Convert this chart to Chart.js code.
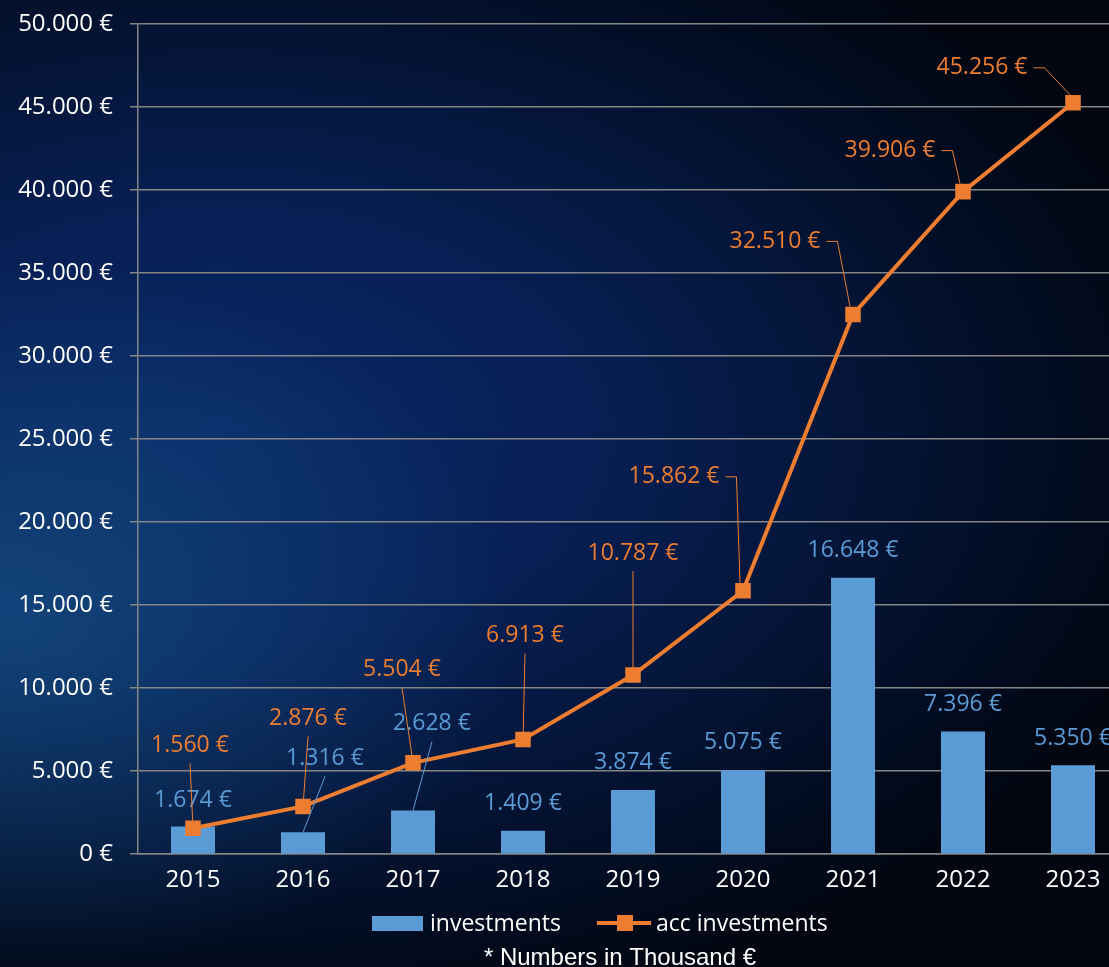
<!DOCTYPE html>
<html>
<head>
<meta charset="utf-8">
<script src="https://cdn.jsdelivr.net/npm/chart.js@4.4.1/dist/chart.umd.min.js"></script>
<style>
    html, body { margin: 0; padding: 0; width: 1109px; height: 967px; overflow: hidden; }
    body {
        background:
            radial-gradient(ellipse 520px 360px at 0% 64%, rgba(22,80,135,0.75) 0%, rgba(22,80,135,0) 100%),
            radial-gradient(ellipse 1000px 600px at 20% 45%, rgb(9,40,100) 0%, rgb(7,32,86) 35%, rgb(3,18,48) 70%, rgb(1,6,16) 100%);
    }
</style>
</head>
<body>
<canvas id="my" width="1200" height="967"></canvas>
<script>
// data (values in thousand €)
var years = ["2015", "2016", "2017", "2018", "2019", "2020", "2021", "2022", "2023"];
var investments = [1674, 1316, 2628, 1409, 3874, 5075, 16648, 7396, 5350];
var accInvestments = [1560, 2876, 5504, 6913, 10787, 15862, 32510, 39906, 45256];
var seriesNames = ["investments", "acc investments"];

// label placement: [dx, dy, leader]  (relative to bar top / point)
var barLabelPos = [[0,-26,""],[22,-74,"v"],[19,-87,"v"],[0,-27,""],[0,-27,""],[0,-27,""],[0,-27,""],[0,-27,""],[0,-27,""]];
var lineLabelPos = [[-3,-83,"v"],[5,-88,"v"],[-11,-93,"v"],[2,-104,"v"],[0,-122,"v"],[-69,-114,"h"],[-78,-73,"h"],[-73,-41,"h"],[-91,-35,"h"]];

var blue = "#5B9BD5";
var orange = "#ED7D31";
var grid = "#858585";
var font = "'Open Sans', sans-serif";

function euro(v) {
    var s = String(Math.round(v));
    return s.replace(/\B(?=(\d{3})+(?!\d))/g, ".") + " €";
}

var labelPlugin = {
    id: "valueLabels",
    afterDatasetsDraw: function (chart) {
        var ctx = chart.ctx;
        ctx.save();
        ctx.font = "23px " + font;
        ctx.textAlign = "center";
        ctx.textBaseline = "middle";
        [[0, investments, barLabelPos, blue], [1, accInvestments, lineLabelPos, orange]].forEach(function (d) {
            var meta = chart.getDatasetMeta(d[0]);
            meta.data.forEach(function (el, i) {
                var p = d[2][i];
                var lx = el.x + p[0], ly = el.y + p[1];
                var txt = euro(d[1][i]);
                ctx.strokeStyle = d[3];
                ctx.lineWidth = 1;
                if (p[2] === "v") {
                    ctx.beginPath();
                    ctx.moveTo(lx, ly + 18);
                    ctx.lineTo(el.x, el.y);
                    ctx.stroke();
                } else if (p[2] === "h") {
                    var w = ctx.measureText(txt).width;
                    var sx = lx + w / 2 + 6;
                    ctx.beginPath();
                    ctx.moveTo(sx, ly);
                    ctx.lineTo(sx + 11, ly);
                    ctx.lineTo(el.x - 3, el.y - 8);
                    ctx.stroke();
                }
                ctx.fillStyle = d[3];
                ctx.fillText(txt, lx, ly);
            });
        });
        ctx.restore();
    },
    afterDraw: function (chart) {
        // legend + footnote
        var ctx = chart.ctx;
        ctx.save();
        ctx.textBaseline = "middle";
        ctx.textAlign = "left";
        ctx.font = "23px " + font;
        ctx.fillStyle = blue;
        ctx.fillRect(372, 916, 51, 15);
        ctx.fillStyle = "#fff";
        ctx.fillText(seriesNames[0], 430, 924);
        ctx.fillStyle = orange;
        ctx.fillRect(597, 921, 54, 4);
        ctx.fillRect(617, 915, 16, 16);
        ctx.fillStyle = "#fff";
        ctx.fillText(seriesNames[1], 656, 924);

        ctx.font = "24px 'Liberation Sans', Arial, sans-serif";
        ctx.textAlign = "center";
        ctx.fillText("* Numbers in Thousand €", 620, 958);
        ctx.restore();
    }
};

var ctx = document.getElementById("my").getContext("2d");
var myChart = new Chart(ctx, {
    type: "bar",
    plugins: [labelPlugin],
    data: {
        labels: years,
        datasets: [{
            type: "bar",
            label: seriesNames[0],
            data: investments,
            backgroundColor: blue,
            categoryPercentage: 1,
            barPercentage: 0.4,
            order: 1
        }, {
            type: "line",
            label: seriesNames[1],
            data: accInvestments,
            borderColor: orange,
            backgroundColor: orange,
            borderWidth: 4,
            pointStyle: "rect",
            pointRadius: 11,
            pointHoverRadius: 11,
            pointBorderWidth: 0,
            tension: 0,
            order: 0
        }]
    },
    options: {
        responsive: false,
        animation: false,
        layout: { padding: { top: 24, right: 72, left: 0, bottom: 60 } },
        plugins: {
            tooltip: { enabled: false },
            legend: { display: false }
        },
        scales: {
            x: {
                grid: { display: false, drawTicks: false, tickLength: 0 },
                border: { display: true, color: grid, width: 1.5 },
                ticks: { color: "#fff", font: { family: font, size: 24 }, padding: 12 }
            },
            y: {
                min: 0,
                max: 50000,
                afterFit: function (scale) {
                    scale.width = 138;
                    scale.paddingTop = 0;
                    scale.paddingBottom = 0;
                },
                grid: { color: grid, lineWidth: 1.5, tickLength: 8 },
                border: { display: true, color: grid, width: 1.5 },
                ticks: {
                    stepSize: 5000,
                    color: "#fff",
                    padding: 17,
                    font: { family: font, size: 24 },
                    callback: function (v) { return euro(v); }
                }
            }
        }
    }
});
</script>
</body>
</html>
